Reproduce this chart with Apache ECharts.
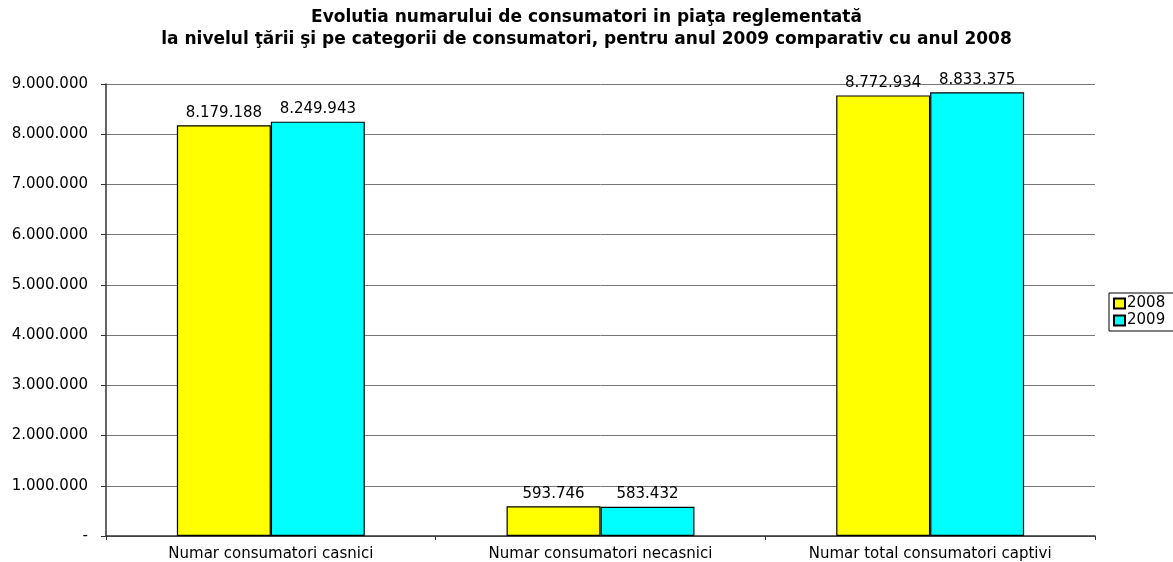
<!DOCTYPE html>
<html lang="ro">
<head>
    <meta charset="UTF-8">
    <title>Evolutia numarului de consumatori</title>
    <script src="https://cdn.jsdelivr.net/npm/echarts@6/dist/echarts.min.js"></script>
    <style>
        html, body { margin: 0; padding: 0; background: #fff; }
        #chart-container { width: 1173px; height: 562px; }
    </style>
</head>
<body>
    <div id="chart-container"></div>
    <script>
        var categories = ['Numar consumatori casnici', 'Numar consumatori necasnici', 'Numar total consumatori captivi'];
        var values2008 = [8179188, 593746, 8772934];
        var values2009 = [8249943, 583432, 8833375];

        function fmt(v) {
            if (v === 0) return '-';
            return String(v).replace(/\B(?=(\d{3})+(?!\d))/g, '.');
        }

        var font = '"DejaVu Sans", Arial, sans-serif';
        var myChart = echarts.init(document.getElementById('chart-container'));

        var labelStyle = {
            show: true,
            position: 'top',
            distance: 5,
            fontFamily: font,
            fontSize: 15,
            color: '#000',
            formatter: function (p) { return fmt(p.value); }
        };

        var option = {
            animation: false,
            title: {
                text: 'Evolutia numarului de consumatori in piaţa reglementată\nla nivelul ţării şi pe categorii de consumatori, pentru anul 2009 comparativ cu anul 2008',
                left: 'center',
                top: 2,
                textStyle: {
                    fontFamily: font,
                    fontSize: 17,
                    fontWeight: 'bold',
                    color: '#000',
                    lineHeight: 22
                }
            },
            legend: {
                orient: 'vertical',
                left: 1109,
                top: 293,
                padding: [3, 16, 3, 4],
                itemGap: 2,
                itemWidth: 11,
                itemHeight: 10,
                borderColor: '#000',
                borderWidth: 1,
                borderRadius: 0,
                textStyle: { fontFamily: font, fontSize: 15, color: '#000', padding: [0, 0, 0, -3] },
                data: [{ name: '2008', icon: 'rect' }, { name: '2009', icon: 'rect' }]
            },
            grid: {
                left: 106,
                right: 78,
                top: 84,
                bottom: 25,
                containLabel: false
            },
            xAxis: {
                type: 'category',
                data: categories,
                axisLine: { lineStyle: { color: '#333', width: 1.5 } },
                axisTick: { show: true, length: 4, lineStyle: { color: '#333' } },
                axisLabel: { fontFamily: font, fontSize: 15, color: '#000', margin: 11 }
            },
            yAxis: {
                type: 'value',
                min: 0,
                max: 9000000,
                interval: 1000000,
                axisLine: { show: true, lineStyle: { color: '#333', width: 1.5 } },
                axisTick: { show: true, length: 5, lineStyle: { color: '#333' } },
                axisLabel: { fontFamily: font, fontSize: 15, color: '#000', margin: 18, formatter: fmt },
                splitLine: { lineStyle: { color: '#777', width: 1 } }
            },
            series: [{
                name: '2008',
                type: 'bar',
                data: values2008,
                barGap: 0,
                barCategoryGap: '43%',
                itemStyle: { color: '#ffff00', borderColor: '#000', borderWidth: 1.2 },
                label: labelStyle
            }, {
                name: '2009',
                type: 'bar',
                data: values2009,
                barGap: 0,
                barCategoryGap: '43%',
                itemStyle: { color: '#00ffff', borderColor: '#000', borderWidth: 1.2 },
                label: labelStyle
            }]
        };

        myChart.setOption(option);

        window.addEventListener('resize', function () {
            myChart.resize();
        });
    </script>
</body>
</html>
